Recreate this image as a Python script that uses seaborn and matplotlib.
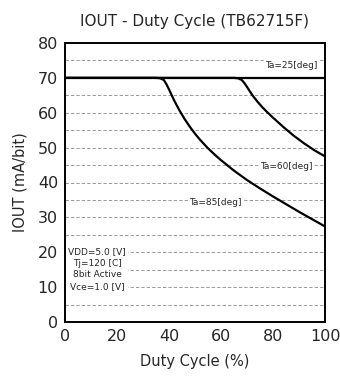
import matplotlib
matplotlib.use("Agg")
import matplotlib.pyplot as plt
import seaborn as sns
import pandas as pd

# Data
duty_25 = [0, 100]
iout_25 = [70, 70]

duty_60 = [0, 65, 66.5, 68, 69, 70, 72, 74, 76, 78, 80, 84, 88, 92, 96, 100]
iout_60 = [70, 70, 69.9, 69.4, 68.5, 67.4, 65.1, 63.2, 61.5, 60.0, 58.6, 55.9, 53.4, 51.2, 49.2, 47.5]

duty_85 = [0, 35, 36.5, 38, 39, 40, 42, 44, 46, 48, 50, 52, 55, 58, 60, 65, 70, 75, 80, 85, 90, 95, 100]
iout_85 = [70, 70, 69.9, 69.4, 68.2, 66.7, 63.5, 60.7, 58.2, 56.0, 54.0, 52.2, 49.8, 47.7, 46.4, 43.4, 40.7, 38.3, 36.0, 33.8, 31.6, 29.5, 27.4]

title = "IOUT - Duty Cycle (TB62715F)"
xlabel = "Duty Cycle (%)"
ylabel = "IOUT (mA/bit)"
xticks = [0, 20, 40, 60, 80, 100]
yticks = [0, 10, 20, 30, 40, 50, 60, 70, 80]
grid_levels = [5, 10, 15, 20, 25, 30, 35, 40, 45, 50, 55, 60, 65, 75]
curve_labels = ["Ta=25[deg]", "Ta=60[deg]", "Ta=85[deg]"]
cond_text = "VDD=5.0 [V]\nTj=120 [C]\n8bit Active\nVce=1.0 [V]"

df = pd.concat([
    pd.DataFrame({"duty": duty_25, "iout": iout_25, "Ta": curve_labels[0]}),
    pd.DataFrame({"duty": duty_60, "iout": iout_60, "Ta": curve_labels[1]}),
    pd.DataFrame({"duty": duty_85, "iout": iout_85, "Ta": curve_labels[2]}),
])

sns.set_style("white")
plt.rcParams["font.family"] = ["DejaVu Sans"]

fig = plt.figure(figsize=(3.4, 3.79), dpi=100)
ax = fig.add_axes([65 / 340, 1 - 322 / 379, 260 / 340, 279 / 379])

for g in grid_levels:
    ax.axhline(g, color="#8a8a8a", lw=0.6, ls=(0, (4, 2.5)), zorder=1)

sns.lineplot(data=df, x="duty", y="iout", units="Ta", estimator=None,
             color="black", lw=1.6, sort=False, ax=ax, zorder=3)

ax.set_xlim(0, 100)
ax.set_ylim(0, 80)
ax.set_xticks(xticks)
ax.set_yticks(yticks)
ax.tick_params(length=0, labelsize=11.5, pad=5)
for s in ax.spines.values():
    s.set_color("black")
    s.set_linewidth(1.4)
    s.set_zorder(6)

ax.set_title(title, fontsize=11, pad=12)
ax.set_xlabel(xlabel, fontsize=10.5, labelpad=7)
ax.set_ylabel(ylabel, fontsize=10.5, labelpad=7)

bbox = dict(facecolor="white", edgecolor="none", pad=0.5)
ax.text(97, 73.5, curve_labels[0], fontsize=6.5, ha="right", va="center", bbox=bbox, zorder=4)
ax.text(85, 44.7, curve_labels[1], fontsize=6.5, ha="center", va="center", bbox=bbox, zorder=4)
ax.text(58, 34.4, curve_labels[2], fontsize=6.5, ha="center", va="center", bbox=bbox, zorder=4)
ax.text(12.3, 15.2, cond_text, fontsize=6.5, ha="center", va="center",
        linespacing=1.35, bbox=dict(facecolor="white", edgecolor="none", pad=1.5), zorder=4)

fig.savefig("out.png", dpi=100)
